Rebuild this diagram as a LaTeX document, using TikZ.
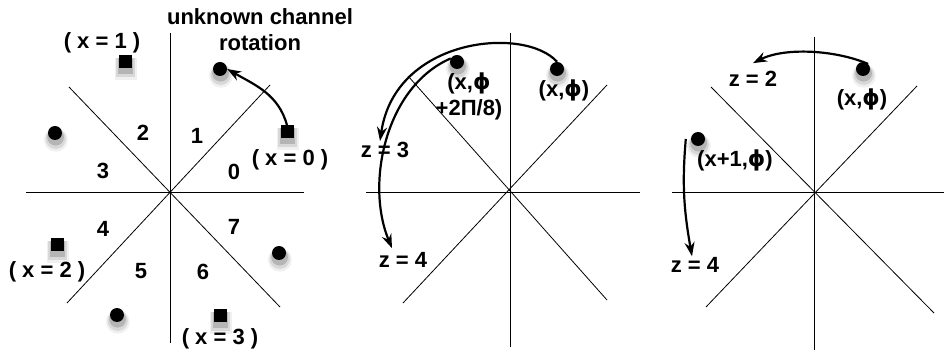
\documentclass[tikz,border=0pt]{standalone}
\usepackage{fontspec}
\setmainfont{Liberation Sans}
\newfontfamily\griego{DejaVu Sans}
\newcommand{\fiv}{{\griego ϕ}}
\usepackage{tikz}
\usetikzlibrary{arrows.meta,shadows}

\begin{document}
\begin{tikzpicture}[x=1pt, y=1pt,
  font=\bfseries\fontsize{22}{26}\selectfont,
  eje/.style={line width=0.8pt},
  sombra/.style={
    drop shadow={shadow xshift=0.5pt, shadow yshift=-4pt, shadow scale=1.7, opacity=0.06, fill=black},
    drop shadow={shadow xshift=0.5pt, shadow yshift=-4pt, shadow scale=1.45, opacity=0.1, fill=black},
    drop shadow={shadow xshift=0.5pt, shadow yshift=-3.5pt, shadow scale=1.2, opacity=0.16, fill=black}},
  punto/.style={circle, fill=black, minimum size=14pt, inner sep=0pt, sombra},
  cuadro/.style={rectangle, fill=black, minimum size=13pt, inner sep=0pt, sombra},
  flecha/.style={-{Stealth[length=14pt, width=10pt]}, line width=2.2pt},
  clave/.style={inner sep=1pt, align=center}
]
\useasboundingbox (0,0) rectangle (944,353);

% panel 1: the eight sectors
\draw[eje] (26,161) -- (304,161);
\draw[eje] (170,320) -- (170,10);
\draw[eje] (69,266) -- (280,46);
\draw[eje] (67,50) -- (270,268);

\node[clave] (titulo) at (260,323) {unknown channel\\rotation};
\node (s0) at (234,181) {0};
\node (s1) at (197,217) {1};
\node (s2) at (143,220) {2};
\node (s3) at (103,182) {3};
\node (s4) at (103,124) {4};
\node (s5) at (141,82) {5};
\node (s6) at (203,81) {6};
\node (s7) at (234,126) {7};

\node[cuadro] (q0) at (287,221) {};
\node[cuadro] (q1) at (125,291) {};
\node[cuadro] (q2) at (57,108) {};
\node[cuadro] (q3) at (220,37) {};
\node[clave] (lq0) at (290,193) {( x = 0 )};
\node[clave] (lq1) at (102,310) {( x = 1 )};
\node[clave] (lq2) at (47,81) {( x = 2 )};
\node[clave] (lq3) at (220,14) {( x = 3 )};

\node[punto] (p1) at (220,284) {};
\node[punto] (p2) at (55,220) {};
\node[punto] (p3) at (117,38) {};
\node[punto] (p4) at (279,100) {};

\draw[flecha] (q0.north) to[out=105, in=-30] (p1.east);

% panel 2
\draw[eje] (366,161) -- (640,161);
\draw[eje] (510,320) -- (510,6);
\draw[eje] (408,277) -- (607,53);
\draw[eje] (403,50) -- (607,268);

\node[punto] (pa) at (557,284) {};
\node[punto] (pb) at (457,291) {};
\node[clave] (lpa) at (564,263) {(x,\fiv)};
\node[clave] (lpb) at (469,257) {(x,\fiv\\+2Π/8)};
\node[clave] (za3) at (385,203) {z = 3};
\node[clave] (za4) at (403,93) {z = 4};

\draw[flecha] (pa.north) .. controls +(-32,36) and +(15,104) .. ([xshift=-5pt]za3.north);
\draw[flecha] (pb.150) .. controls +(-65,-28) and +(-27,65) .. ([xshift=-11pt, yshift=3pt]za4.north);

% panel 3
\draw[eje] (672,161) -- (944,161);
\draw[eje] (814,316) -- (814,3);
\draw[eje] (711,266) -- (934,40);
\draw[eje] (706,46) -- (917,267);

\node[punto] (pc) at (863,284) {};
\node[punto] (pd) at (698,214) {};
\node[clave] (lpc) at (862,254) {(x,\fiv)};
\node[clave] (lpd) at (735,193) {(x+1,\fiv)};
\node[clave] (zb2) at (753,274) {z = 2};
\node[clave] (zb4) at (695,88) {z = 4};

\draw[flecha] (pc.north east) .. controls +(-33,14) and +(32,16) .. ([yshift=7pt]zb2.north);
\draw[flecha] ([xshift=-5pt]pd.west) to[out=265, in=100] ([xshift=-3pt]zb4.north);
\end{tikzpicture}
\end{document}
